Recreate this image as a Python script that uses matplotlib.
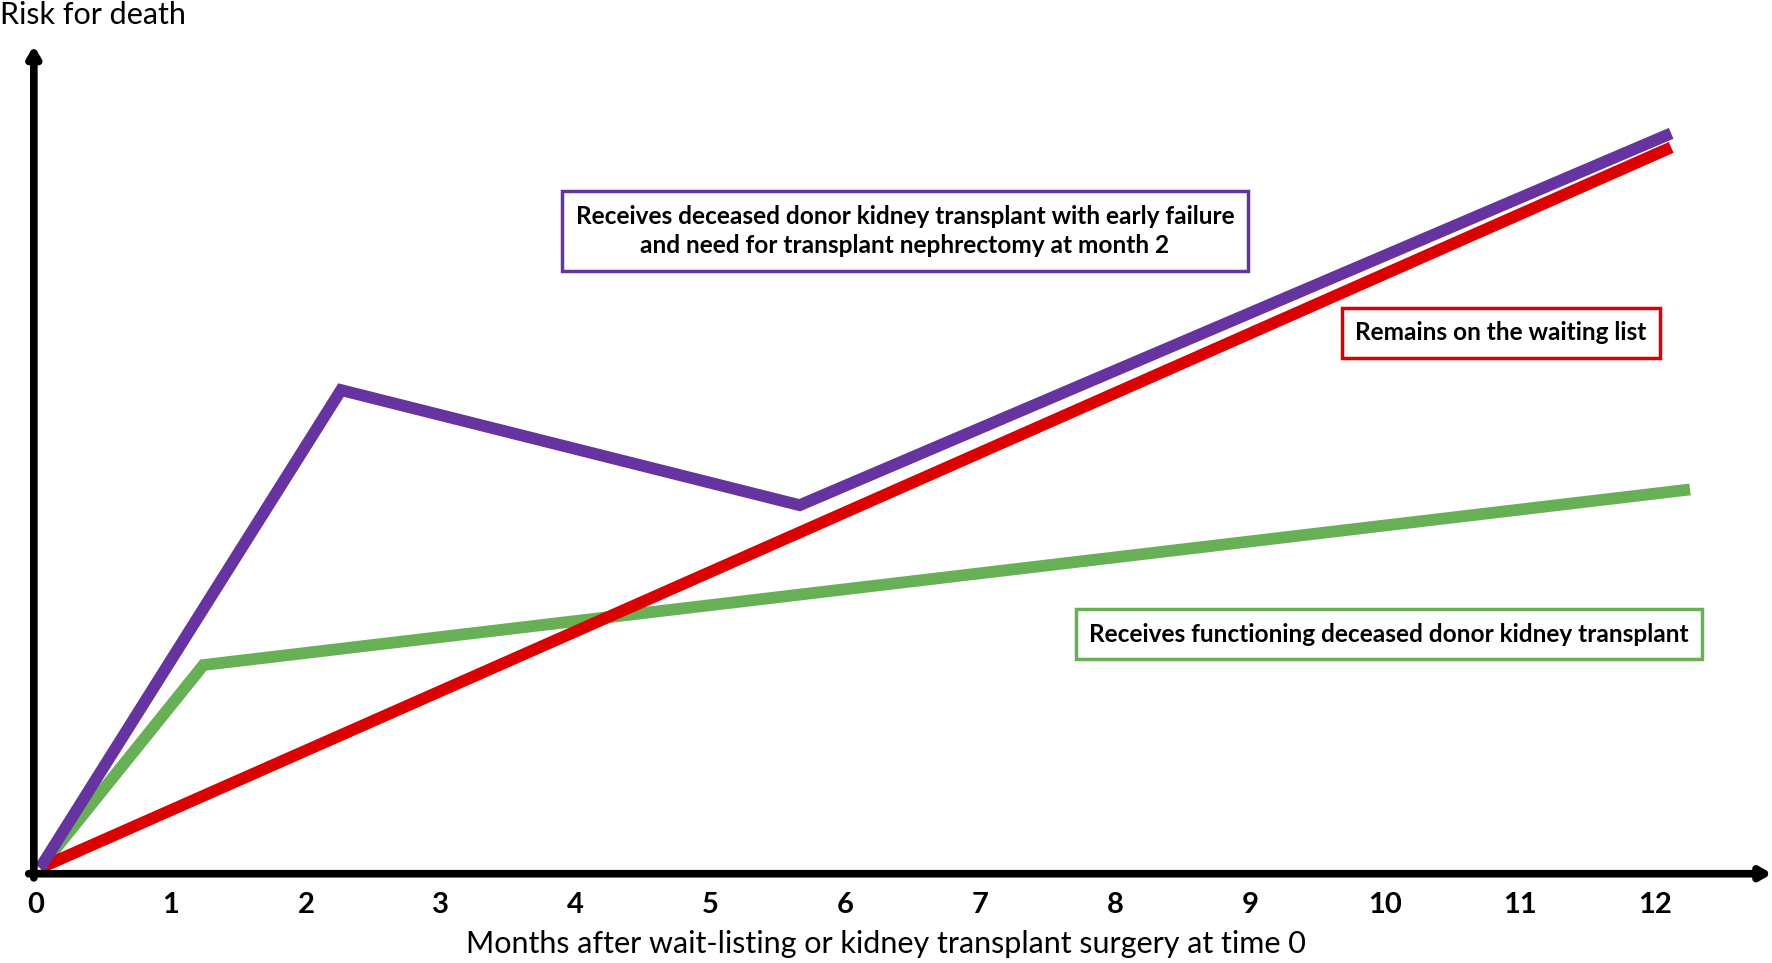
import matplotlib.pyplot as plt

# months after wait-listing / transplant, and relative risk (arbitrary units, 0-10)
months = list(range(13))
failed_x = [0.03, 2.26, 5.66, 12.12]
failed_y = [0.07, 5.84, 4.45, 8.94]
waiting_x = [0.03, 12.12]
waiting_y = [0.07, 8.77]
functioning_x = [0.03, 1.24, 12.26]
functioning_y = [0.07, 2.52, 4.64]

purple = "#6633A0"
red = "#DD0000"
green = "#68B055"

plt.rcParams["font.family"] = ["Lato", "DejaVu Sans"]

fig = plt.figure(figsize=(17.72, 9.63), dpi=100)
ax = fig.add_axes([0.0191, 0.0927, 0.975, 0.86])
ax.set_xlim(-0.017, 12.79)
ax.set_ylim(0, 10)
for s in ax.spines.values():
    s.set_visible(False)

ax.plot(functioning_x, functioning_y, color=green, lw=8.5, solid_capstyle="butt",
        solid_joinstyle="miter", clip_on=False)
ax.plot(waiting_x, waiting_y, color=red, lw=8.5, solid_capstyle="butt", clip_on=False)
ax.plot(failed_x, failed_y, color=purple, lw=8.5, solid_capstyle="butt",
        solid_joinstyle="miter", clip_on=False)

# axis arrows
arrow = dict(arrowstyle="-|>,head_width=0.35,head_length=0.6", lw=5.5, color="black",
             shrinkA=0, shrinkB=0)
ax.annotate("", xy=(0, 1.0), xytext=(0, -0.005), xycoords="axes fraction",
            arrowprops=arrow, annotation_clip=False)
ax.annotate("", xy=(1.006, 0), xytext=(-0.003, 0), xycoords="axes fraction",
            arrowprops=arrow, annotation_clip=False)

ax.set_xticks(months)
ax.set_xticklabels([str(m) for m in months], fontsize=21, fontweight="bold")
ax.tick_params(axis="x", length=0, pad=13)
ax.set_yticks([])

fig.text(0.0, 0.984, "Risk for death", fontsize=22, ha="left", va="center")
fig.text(0.5, 0.02, "Months after wait-listing or kidney transplant surgery at time 0",
         fontsize=22, ha="center", va="center")

box_font = 17.6
ax.text(6.44, 7.76, "Receives deceased donor kidney transplant with early failure\n"
        "and need for transplant nephrectomy at month 2",
        ha="center", va="center", fontsize=box_font, fontweight="bold", linespacing=1.35,
        bbox=dict(boxstyle="square,pad=0.55", fc="white", ec=purple, lw=2.5))
ax.text(10.86, 6.53, "Remains on the waiting list", ha="center", va="center",
        fontsize=box_font, fontweight="bold",
        bbox=dict(boxstyle="square,pad=0.55", fc="white", ec=red, lw=2.5))
ax.text(10.03, 2.89, "Receives functioning deceased donor kidney transplant",
        ha="center", va="center", fontsize=box_font, fontweight="bold",
        bbox=dict(boxstyle="square,pad=0.55", fc="white", ec=green, lw=2.5))

fig.savefig("out.png", dpi=100)
